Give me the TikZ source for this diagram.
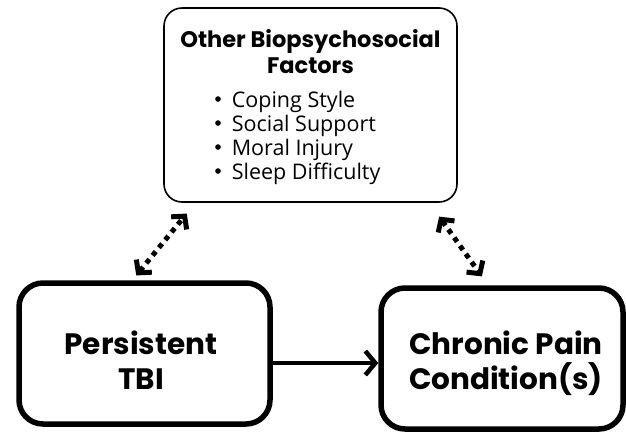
\documentclass[tikz,border=0pt]{standalone}
\usepackage{fontspec}
\setmainfont{Open Sans}
\newfontfamily\headfont{Poppins}
\usetikzlibrary{arrows.meta}
\newcommand{\itemdot}{\raisebox{0.5ex}{\tikz\fill (0,0) circle (2.8pt);}\hspace{11pt}}
\begin{document}
\begin{tikzpicture}[x=1pt,y=-1pt,
  factorbox/.style={draw, line width=1.6pt, rounded corners=18pt,
    minimum width=293pt, minimum height=194pt, inner sep=0pt},
  mainbox/.style={draw, line width=5.5pt, rounded corners=24pt,
    minimum height=141pt, inner sep=0pt},
  maintext/.style={font=\headfont\bfseries\fontsize{29.5}{35}\selectfont, align=center},
  dotlink/.style={line width=5pt, dash pattern=on 5pt off 5pt,
    {Straight Barb[length=9pt,width=20pt,line width=5pt]}-{Straight Barb[length=9pt,width=20pt,line width=5pt]}, shorten <=2pt, shorten >=2pt},
  solidlink/.style={line width=4.5pt,
    -{Straight Barb[length=10pt,width=24pt,line width=4.5pt]}}
]
\useasboundingbox (0,0) rectangle (626,432);

% upper box with its heading and list
\node[factorbox] (factors) at (310.5,105) {};
\node[font=\headfont\bfseries\fontsize{22.5}{26}\selectfont, align=center] (head) at (310.5,52) {Other Biopsychosocial\\Factors};
\node[font=\fontsize{21.5}{24}\selectfont, align=left, anchor=west, inner sep=0pt] (list) at (215,138)
  {\itemdot Coping Style\\
   \itemdot Social Support\\
   \itemdot Moral Injury\\
   \itemdot Sleep Difficulty};

% lower boxes
\node[mainbox, minimum width=251pt] (tbi) at (144.5,353.5) {};
\node[maintext] (tbitext) at (141,360) {Persistent\\TBI};
\node[mainbox, minimum width=242pt] (pain) at (502,358.5) {};
\node[maintext] (paintext) at (506,363) {Chronic Pain\\Condition(s)};

% links
\coordinate (a1) at (135,277);
\coordinate (a2) at (188,212);
\coordinate (b1) at (438,215);
\coordinate (b2) at (483,278);
\draw[dotlink] (a1) -- (a2);
\draw[dotlink] (b1) -- (b2);
\draw[solidlink] ([yshift=-9.5pt]tbi.east) -- ([yshift=-9.5pt]tbi.east -| pain.west);
\end{tikzpicture}
\end{document}
